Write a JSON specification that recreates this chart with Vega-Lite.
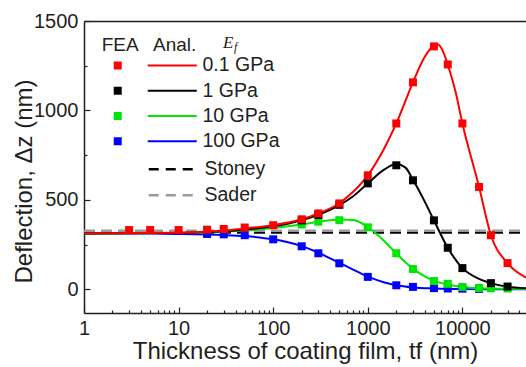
{
  "$schema": "https://vega.github.io/schema/vega-lite/v6.json",
  "width": 442,
  "height": 292,
  "autosize": "none",
  "padding": {"left": 84, "top": 21, "right": 0, "bottom": 54},
  "background": "white",
  "config": {
    "view": {"stroke": null},
    "font": "Liberation Sans",
    "axis": {"grid": false, "labelFont": "Liberation Sans", "titleFont": "Liberation Sans", "labelColor": "#231f20", "titleColor": "#231f20", "titleFontWeight": "normal", "domainColor": "#231f20", "tickColor": "#231f20", "domainWidth": 1.5, "tickWidth": 1.2},
    "legend": {"labelFont": "Liberation Sans", "titleFont": "Liberation Sans", "labelColor": "#231f20", "titleColor": "#231f20"}
  },
  "datasets": {
    "fea": [
      {"t": 20, "z": 309, "E": "100 GPa"}, {"t": 30, "z": 307, "E": "100 GPa"}, {"t": 50, "z": 302, "E": "100 GPa"}, {"t": 100, "z": 279, "E": "100 GPa"}, {"t": 200, "z": 240, "E": "100 GPa"}, {"t": 300, "z": 201, "E": "100 GPa"}, {"t": 500, "z": 145, "E": "100 GPa"}, {"t": 1000, "z": 69, "E": "100 GPa"}, {"t": 2000, "z": 22, "E": "100 GPa"}, {"t": 3000, "z": 13, "E": "100 GPa"}, {"t": 5000, "z": 6, "E": "100 GPa"}, {"t": 7000, "z": 4, "E": "100 GPa"}, {"t": 10000, "z": 3, "E": "100 GPa"}, {"t": 15000, "z": 2, "E": "100 GPa"},
      {"t": 200, "z": 362, "E": "10 GPa"}, {"t": 300, "z": 378, "E": "10 GPa"}, {"t": 500, "z": 386, "E": "10 GPa"}, {"t": 1000, "z": 346, "E": "10 GPa"}, {"t": 2000, "z": 201, "E": "10 GPa"}, {"t": 3000, "z": 113, "E": "10 GPa"}, {"t": 5000, "z": 46, "E": "10 GPa"}, {"t": 7000, "z": 30, "E": "10 GPa"}, {"t": 10000, "z": 13, "E": "10 GPa"}, {"t": 15000, "z": 7, "E": "10 GPa"}, {"t": 20000, "z": 5, "E": "10 GPa"}, {"t": 30000, "z": 4, "E": "10 GPa"},
      {"t": 200, "z": 385, "E": "1 GPa"}, {"t": 300, "z": 415, "E": "1 GPa"}, {"t": 500, "z": 472, "E": "1 GPa"}, {"t": 1000, "z": 592, "E": "1 GPa"}, {"t": 2000, "z": 693, "E": "1 GPa"}, {"t": 3000, "z": 609, "E": "1 GPa"}, {"t": 5000, "z": 385, "E": "1 GPa"}, {"t": 7000, "z": 232, "E": "1 GPa"}, {"t": 10000, "z": 118, "E": "1 GPa"}, {"t": 20000, "z": 34, "E": "1 GPa"}, {"t": 30000, "z": 15, "E": "1 GPa"},
      {"t": 3, "z": 331, "E": "0.1 GPa"}, {"t": 5, "z": 331, "E": "0.1 GPa"}, {"t": 10, "z": 331, "E": "0.1 GPa"}, {"t": 20, "z": 333, "E": "0.1 GPa"}, {"t": 30, "z": 337, "E": "0.1 GPa"}, {"t": 50, "z": 345, "E": "0.1 GPa"}, {"t": 100, "z": 358, "E": "0.1 GPa"}, {"t": 200, "z": 391, "E": "0.1 GPa"}, {"t": 300, "z": 424, "E": "0.1 GPa"}, {"t": 500, "z": 480, "E": "0.1 GPa"}, {"t": 1000, "z": 637, "E": "0.1 GPa"}, {"t": 2000, "z": 927, "E": "0.1 GPa"}, {"t": 3000, "z": 1157, "E": "0.1 GPa"}, {"t": 5000, "z": 1358, "E": "0.1 GPa"}, {"t": 7000, "z": 1257, "E": "0.1 GPa"}, {"t": 10000, "z": 927, "E": "0.1 GPa"}, {"t": 15000, "z": 572, "E": "0.1 GPa"}, {"t": 20000, "z": 302, "E": "0.1 GPa"}, {"t": 30000, "z": 146, "E": "0.1 GPa"}
    ],
    "anal": [
      {"t": 1, "z": 312, "E": "100 GPa"}, {"t": 5, "z": 311, "E": "100 GPa"}, {"t": 10, "z": 309, "E": "100 GPa"}, {"t": 20, "z": 306, "E": "100 GPa"}, {"t": 30, "z": 303, "E": "100 GPa"}, {"t": 50, "z": 297, "E": "100 GPa"}, {"t": 100, "z": 279, "E": "100 GPa"}, {"t": 200, "z": 241, "E": "100 GPa"}, {"t": 300, "z": 204, "E": "100 GPa"}, {"t": 500, "z": 147, "E": "100 GPa"}, {"t": 700, "z": 110, "E": "100 GPa"}, {"t": 1000, "z": 70, "E": "100 GPa"}, {"t": 1500, "z": 38, "E": "100 GPa"}, {"t": 2000, "z": 22, "E": "100 GPa"}, {"t": 3000, "z": 10, "E": "100 GPa"}, {"t": 5000, "z": 4, "E": "100 GPa"}, {"t": 10000, "z": 1, "E": "100 GPa"}, {"t": 47000, "z": 0, "E": "100 GPa"},
      {"t": 1, "z": 312, "E": "10 GPa"}, {"t": 10, "z": 315, "E": "10 GPa"}, {"t": 30, "z": 322, "E": "10 GPa"}, {"t": 50, "z": 328, "E": "10 GPa"}, {"t": 100, "z": 342, "E": "10 GPa"}, {"t": 200, "z": 362, "E": "10 GPa"}, {"t": 300, "z": 377, "E": "10 GPa"}, {"t": 500, "z": 390, "E": "10 GPa"}, {"t": 700, "z": 387, "E": "10 GPa"}, {"t": 1000, "z": 348, "E": "10 GPa"}, {"t": 1500, "z": 268, "E": "10 GPa"}, {"t": 2000, "z": 200, "E": "10 GPa"}, {"t": 3000, "z": 115, "E": "10 GPa"}, {"t": 4000, "z": 72, "E": "10 GPa"}, {"t": 5000, "z": 48, "E": "10 GPa"}, {"t": 7000, "z": 26, "E": "10 GPa"}, {"t": 10000, "z": 13, "E": "10 GPa"}, {"t": 15000, "z": 6, "E": "10 GPa"}, {"t": 20000, "z": 4, "E": "10 GPa"}, {"t": 47000, "z": 1, "E": "10 GPa"},
      {"t": 1, "z": 312, "E": "1 GPa"}, {"t": 10, "z": 315, "E": "1 GPa"}, {"t": 30, "z": 324, "E": "1 GPa"}, {"t": 50, "z": 333, "E": "1 GPa"}, {"t": 100, "z": 352, "E": "1 GPa"}, {"t": 200, "z": 386, "E": "1 GPa"}, {"t": 300, "z": 416, "E": "1 GPa"}, {"t": 500, "z": 470, "E": "1 GPa"}, {"t": 700, "z": 520, "E": "1 GPa"}, {"t": 1000, "z": 592, "E": "1 GPa"}, {"t": 1500, "z": 670, "E": "1 GPa"}, {"t": 2000, "z": 700, "E": "1 GPa"}, {"t": 2500, "z": 680, "E": "1 GPa"}, {"t": 3000, "z": 612, "E": "1 GPa"}, {"t": 4000, "z": 490, "E": "1 GPa"}, {"t": 5000, "z": 385, "E": "1 GPa"}, {"t": 7000, "z": 232, "E": "1 GPa"}, {"t": 10000, "z": 118, "E": "1 GPa"}, {"t": 15000, "z": 58, "E": "1 GPa"}, {"t": 20000, "z": 34, "E": "1 GPa"}, {"t": 30000, "z": 14, "E": "1 GPa"}, {"t": 47000, "z": 5, "E": "1 GPa"},
      {"t": 1, "z": 312, "E": "0.1 GPa"}, {"t": 10, "z": 316, "E": "0.1 GPa"}, {"t": 30, "z": 328, "E": "0.1 GPa"}, {"t": 50, "z": 340, "E": "0.1 GPa"}, {"t": 100, "z": 358, "E": "0.1 GPa"}, {"t": 200, "z": 391, "E": "0.1 GPa"}, {"t": 300, "z": 424, "E": "0.1 GPa"}, {"t": 500, "z": 481, "E": "0.1 GPa"}, {"t": 700, "z": 545, "E": "0.1 GPa"}, {"t": 1000, "z": 637, "E": "0.1 GPa"}, {"t": 1500, "z": 790, "E": "0.1 GPa"}, {"t": 2000, "z": 927, "E": "0.1 GPa"}, {"t": 3000, "z": 1157, "E": "0.1 GPa"}, {"t": 4000, "z": 1300, "E": "0.1 GPa"}, {"t": 5000, "z": 1362, "E": "0.1 GPa"}, {"t": 5500, "z": 1368, "E": "0.1 GPa"}, {"t": 6000, "z": 1348, "E": "0.1 GPa"}, {"t": 7000, "z": 1257, "E": "0.1 GPa"}, {"t": 8500, "z": 1100, "E": "0.1 GPa"}, {"t": 10000, "z": 927, "E": "0.1 GPa"}, {"t": 15000, "z": 572, "E": "0.1 GPa"}, {"t": 20000, "z": 302, "E": "0.1 GPa"}, {"t": 30000, "z": 146, "E": "0.1 GPa"}, {"t": 47000, "z": 65, "E": "0.1 GPa"}
    ],
    "ref": [
      {"t": 1, "z": 317, "model": "Stoney"}, {"t": 47000, "z": 317, "model": "Stoney"},
      {"t": 1, "z": 327, "model": "Sader"}, {"t": 47000, "z": 327, "model": "Sader"}
    ]
  },
  "resolve": {"axis": {"x": "independent", "y": "independent"}},
  "layer": [
    {
      "data": {"name": "ref"},
      "mark": {"type": "line", "strokeDash": [11, 6], "strokeWidth": 2.5, "clip": true},
      "encoding": {
        "x": {"field": "t", "type": "quantitative", "scale": {"type": "log", "domain": [1, 47000]},
          "axis": {"orient": "top", "labels": false, "ticks": false, "title": null, "domain": true}},
        "y": {"field": "z", "type": "quantitative", "scale": {"domain": [-133, 1500]}, "axis": null},
        "stroke": {"field": "model", "type": "nominal",
          "scale": {"domain": ["Stoney", "Sader"], "range": ["#000000", "#9a9a9a"]},
          "legend": {"orient": "none", "legendX": 60, "legendY": 138.5, "title": null, "padding": 0,
            "symbolType": "M-1,0H8", "symbolSize": 100, "symbolDash": [10, 7], "symbolStrokeWidth": 2.5,
            "labelOffset": 41, "labelFontSize": 19.5, "rowPadding": 5}}
      }
    },
    {
      "data": {"name": "anal"},
      "mark": {"type": "line", "strokeWidth": 2, "interpolate": "monotone", "clip": true},
      "encoding": {
        "x": {"field": "t", "type": "quantitative", "scale": {"type": "log", "domain": [1, 47000]}, "axis": null},
        "y": {"field": "z", "type": "quantitative", "scale": {"domain": [-133, 1500]}, "axis": null},
        "color": {"field": "E", "type": "nominal",
          "scale": {"range": ["#ff0000", "#000000", "#00e600", "#0000ff"]},
          "legend": null}
      }
    },
    {
      "data": {"name": "fea"},
      "mark": {"type": "square", "size": 64, "opacity": 1, "filled": true, "clip": true},
      "encoding": {
        "x": {"field": "t", "type": "quantitative", "scale": {"type": "log", "domain": [1, 47000]},
          "axis": {"orient": "bottom",
            "values": [1,2,3,4,5,6,7,8,9,10,20,30,40,50,60,70,80,90,100,200,300,400,500,600,700,800,900,1000,2000,3000,4000,5000,6000,7000,8000,9000,10000,20000,30000,40000],
            "labelExpr": "indexof([1,10,100,1000,10000], datum.value) >= 0 ? format(datum.value, 'd') : ''",
            "tickSize": {"condition": {"test": "indexof([1,10,100,1000,10000], datum.value) >= 0", "value": -6}, "value": -3},
            "labelPadding": 11, "labelFontSize": 20, "labelOverlap": false, "labelFlush": false,
            "title": "Thickness of coating film, tf (nm)", "titleFontSize": 24, "titlePadding": -2}},
        "y": {"field": "z", "type": "quantitative", "scale": {"domain": [-133, 1500]},
          "axis": {"values": [0, 250, 500, 750, 1000, 1250, 1500],
            "labelExpr": "datum.value % 500 === 0 ? format(datum.value, 'd') : ''",
            "tickSize": {"condition": {"test": "datum.value % 500 === 0", "value": -6}, "value": -3},
            "labelPadding": 12, "labelFontSize": 20, "labelOverlap": false, "labelFlush": false,
            "title": "Deflection, Δz (nm)", "titleFontSize": 24, "titleX": -48, "titleY": 160}},
        "fill": {"field": "E", "type": "nominal",
          "scale": {"domain": ["0.1 GPa", "1 GPa", "10 GPa", "100 GPa"], "range": ["#ff0000", "#000000", "#00e600", "#0000ff"]},
          "legend": {"orient": "none", "legendX": 17.7, "legendY": 14.7, "padding": 0,
            "title": "FEA\u00a0\u00a0\u2009Anal.", "titleFontSize": 19, "titleFontWeight": "normal", "titlePadding": 1,
            "symbolType": "M0.46,-0.8H2.06V0.8H0.46Z M7.26,-0.2H17.06V0.2H7.26Z", "symbolSize": 100, "symbolStrokeWidth": 0,
            "labelOffset": 81.3, "labelFontSize": 19.5, "rowPadding": 4.3}}
      }
    },
    {
      "data": {"values": [{"s": "E"}]},
      "mark": {"type": "text", "font": "Liberation Serif", "fontStyle": "italic", "fontSize": 17, "align": "left", "baseline": "alphabetic", "color": "#231f20"},
      "encoding": {
        "x": {"datum": 29.5, "type": "quantitative", "scale": {"type": "log", "domain": [1, 47000]}, "axis": null},
        "y": {"datum": 1350, "type": "quantitative", "scale": {"domain": [-133, 1500]}, "axis": null},
        "text": {"field": "s"}
      }
    },
    {
      "data": {"values": [{"s": "f"}]},
      "mark": {"type": "text", "font": "Liberation Serif", "fontStyle": "italic", "fontSize": 12, "align": "left", "baseline": "alphabetic", "color": "#231f20"},
      "encoding": {
        "x": {"datum": 38.5, "type": "quantitative", "scale": {"type": "log", "domain": [1, 47000]}, "axis": null},
        "y": {"datum": 1333, "type": "quantitative", "scale": {"domain": [-133, 1500]}, "axis": null},
        "text": {"field": "s"}
      }
    }
  ]
}
